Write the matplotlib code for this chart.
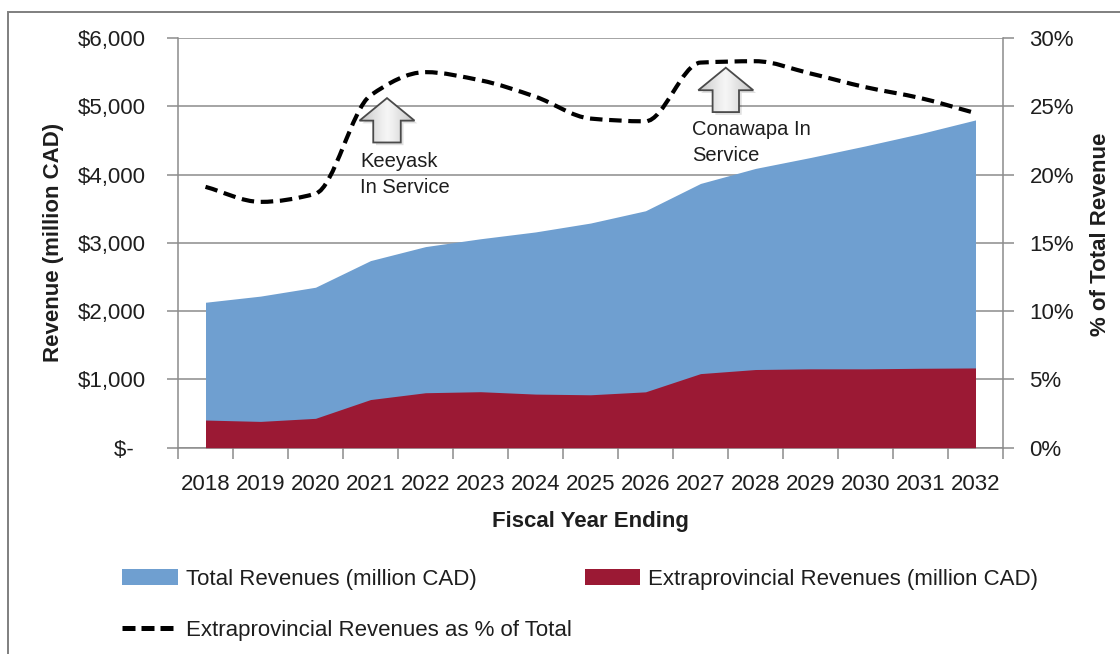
import numpy as np
import matplotlib
matplotlib.use('Agg')
import matplotlib.pyplot as plt
from matplotlib.path import Path
from matplotlib.patches import PathPatch, Polygon, Patch, Rectangle
from matplotlib.lines import Line2D
from matplotlib.ticker import FuncFormatter, FixedLocator

plt.rcParams['font.family'] = ['Liberation Sans', 'DejaVu Sans']

years = [str(y) for y in range(2018, 2033)]
total_rev = [2130, 2220, 2350, 2740, 2945, 3060, 3160, 3290, 3470,
             3870, 4090, 4250, 4420, 4600, 4800]
extra_rev = [405, 385, 430, 705, 805, 820, 785, 775, 818,
             1085, 1145, 1155, 1155, 1163, 1168]
extra_pct = [19.1, 18.0, 18.6, 25.8, 27.5, 26.9, 25.7, 24.1, 23.9,
             28.2, 28.3, 27.4, 26.4, 25.6, 24.5]

BLUE = '#6F9FD0'
RED = '#9B1934'
GREY = '#8C8C8C'
TXT = '#1E1E1E'
FS = 16
DASH = (0, (3.0, 1.6))


def smooth_path(xs, ys):
    # cubic bezier through every point, flat at local peaks/troughs
    xs = np.asarray(xs, float)
    ys = np.asarray(ys, float)
    n = len(xs)
    d = np.diff(ys) / np.diff(xs)
    m = np.zeros(n)
    m[0], m[-1] = d[0], d[-1]
    for i in range(1, n - 1):
        if d[i - 1] * d[i] > 0:
            m[i] = 2 / (1 / d[i - 1] + 1 / d[i])
    verts, codes = [(xs[0], ys[0])], [Path.MOVETO]
    for i in range(n - 1):
        h = xs[i + 1] - xs[i]
        verts += [(xs[i] + h / 3, ys[i] + m[i] * h / 3),
                  (xs[i + 1] - h / 3, ys[i + 1] - m[i + 1] * h / 3),
                  (xs[i + 1], ys[i + 1])]
        codes += [Path.CURVE4] * 3
    return Path(verts, codes)


def up_arrow(ax, x, y, hw=0.5, hh=330, sw=0.25, total=650):
    pts = [(x, y), (x + hw, y - hh), (x + sw, y - hh), (x + sw, y - total),
           (x - sw, y - total), (x - sw, y - hh), (x - hw, y - hh)]
    shadow = Polygon([(px + 0.05, py - 40) for px, py in pts], closed=True,
                     facecolor='#000000', alpha=0.12, lw=0, zorder=4)
    ax.add_patch(shadow)
    poly = Polygon(pts, closed=True, facecolor='none', edgecolor='#4a4a4a',
                   lw=1.3, zorder=6)
    ax.add_patch(poly)
    grad = np.abs(np.linspace(-1, 1, 64))[None, :]
    im = ax.imshow(grad, extent=[x - hw, x + hw, y - total, y], cmap='Greys',
                   vmin=-0.3, vmax=3.4, aspect='auto', zorder=5,
                   interpolation='bilinear')
    im.set_clip_path(poly)


fig = plt.figure(figsize=(11.2, 6.54), dpi=100)
ax = fig.add_axes([178 / 1120, 1 - 447.7 / 654, 825 / 1120, 409.7 / 654])
x = np.arange(len(years))

ax.fill_between(x, total_rev, color=BLUE, lw=0, zorder=2)
ax.fill_between(x, extra_rev, color=RED, lw=0, zorder=3)

ax.set_xlim(-0.5, len(years) - 0.5)
ax.set_ylim(0, 6000)
ax.set_yticks(np.arange(0, 6001, 1000))
ax.yaxis.set_major_formatter(FuncFormatter(
    lambda v, _: '$-  ' if v == 0 else f'${v:,.0f}'))
ax.yaxis.grid(True, color=GREY, lw=1.1)
ax.set_axisbelow(True)

ax.set_xticks(x)
ax.set_xticklabels(years)
ax.xaxis.set_minor_locator(FixedLocator(np.arange(-0.5, len(years), 1)))
ax.tick_params(axis='x', which='major', length=0, pad=19, labelsize=FS,
               labelcolor=TXT)
ax.tick_params(axis='x', which='minor', length=8, direction='out',
               color=GREY, width=1.1)
ax.tick_params(axis='y', length=8, direction='out', color=GREY, width=1.1,
               pad=15, labelsize=FS, labelcolor=TXT)

for side in ['left', 'bottom', 'right']:
    ax.spines[side].set_color(GREY)
    ax.spines[side].set_linewidth(1.1)
ax.spines['top'].set_visible(False)

ax.set_xlabel('Fiscal Year Ending', fontsize=FS, fontweight='bold', color=TXT)
ax.xaxis.set_label_coords(0.5, -0.155)
ax.set_ylabel('Revenue (million CAD)', fontsize=FS, fontweight='bold',
              color=TXT)
ax.yaxis.set_label_coords(-0.138, 0.5)

# percentage share on the secondary axis
ax2 = ax.twinx()
ax2.set_ylim(0, 0.30)
ax2.set_yticks(np.arange(0, 0.301, 0.05))
ax2.yaxis.set_major_formatter(FuncFormatter(lambda v, _: f'{v * 100:.0f}%'))
ax2.tick_params(axis='y', length=8, direction='out', color=GREY, width=1.1,
                pad=11, labelsize=FS, labelcolor=TXT)
for side in ['left', 'bottom', 'right', 'top']:
    ax2.spines[side].set_visible(False)
ax2.set_ylabel('% of Total Revenue', fontsize=FS, fontweight='bold',
               color=TXT)
ax2.yaxis.set_label_coords(1.105, 0.52)

pct_line = PathPatch(smooth_path(x, np.array(extra_pct) / 100), fill=False,
                     edgecolor='black', lw=3.0, linestyle=DASH, zorder=3)
ax2.add_patch(pct_line)

# in-service markers
up_arrow(ax, 3.3, 5120)
ax.text(2.81, 4330, 'Keeyask\nIn Service', fontsize=14.5, color=TXT,
        va='top', ha='left', linespacing=1.45, zorder=7)
up_arrow(ax, 9.46, 5565, sw=0.24)
ax.text(8.84, 4800, 'Conawapa In\nService', fontsize=14.5, color=TXT,
        va='top', ha='left', linespacing=1.45, zorder=7)
ax.set_xlim(-0.5, len(years) - 0.5)
ax.set_ylim(0, 6000)

handles = [
    Patch(facecolor=BLUE, edgecolor='none', label='Total Revenues (million CAD)'),
    Line2D([0], [0], color='black', lw=3.6, linestyle=(0, (2.6, 1.2)),
           label='Extraprovincial Revenues as % of Total'),
    Patch(facecolor=RED, edgecolor='none',
          label='Extraprovincial Revenues (million CAD)'),
]
fig.legend(handles=handles, loc='upper left', ncol=2, frameon=False,
           bbox_to_anchor=(122 / 1120, 1 - 569 / 654), borderpad=0,
           borderaxespad=0, fontsize=FS, handlelength=2.5,
           handletextpad=0.36, columnspacing=0.6, labelspacing=1.33,
           labelcolor=TXT)

# outer frame
fig.add_artist(Rectangle((8 / 1120, -0.1), 1.2, 1.1 - 12 / 654,
                         transform=fig.transFigure, fill=False,
                         edgecolor='#7f7f7f', lw=1.4))

fig.savefig('out.png', dpi=100)
